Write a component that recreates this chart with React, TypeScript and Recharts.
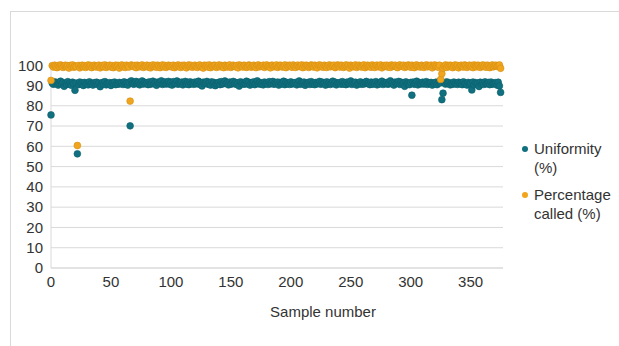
import { ScatterChart, Scatter, XAxis, YAxis, CartesianGrid } from "recharts"

// uniformity (%) per sample, in sample order starting at 0
const uniformity = [
  75.5, 91.2, 90.6, 91.8, 90.9, 91.5, 90.2, 91.0, 92.1, 90.8, 91.4, 89.6, 91.1, 90.5, 91.9, 90.7, 91.3, 90.1, 91.6, 90.9,
  87.6, 91.2, 56.3, 90.4, 91.7, 90.8, 91.3, 90.0, 91.5, 90.6, 91.1, 90.3, 91.8, 90.7, 91.0, 90.2, 91.4, 90.9, 91.6, 90.5,
  91.2, 89.4, 90.8, 91.5, 90.6, 91.9, 90.3, 91.1, 90.7, 91.4, 90.0, 91.3, 90.8, 91.7, 90.4, 91.0, 90.6, 91.5, 90.9, 91.2,
  90.5, 91.8, 90.7, 91.3, 90.2, 91.6, 70.1, 92.3, 91.0, 90.6, 91.4, 92.0, 90.8, 91.5, 90.3, 91.1, 92.2, 90.7, 91.6, 90.9,
  91.3, 90.4, 91.8, 90.6, 91.2, 92.1, 90.8, 91.5, 90.1, 91.7, 90.9, 91.4, 92.3, 90.5, 91.0, 91.8, 90.7, 91.3, 92.0, 90.6,
  91.5, 90.2, 91.9, 90.8, 91.1, 92.2, 90.6, 91.4, 90.9, 91.7, 90.3, 91.2, 92.0, 90.7, 91.5, 90.4, 91.8, 90.9, 91.3, 90.6,
  91.7, 90.8, 91.2, 92.1, 90.5, 91.4, 89.8, 91.6, 90.9, 91.1, 92.0, 90.6, 91.3, 90.2, 91.8, 90.7, 91.5, 89.9, 91.0, 90.8,
  91.6, 90.4, 91.9, 90.7, 91.2, 92.2, 90.9, 91.4, 90.3, 91.7, 90.6, 91.1, 92.0, 90.8, 91.5, 90.5, 91.3, 89.7, 91.8, 90.9,
  91.4, 90.6, 91.0, 92.1, 90.7, 91.6, 90.2, 91.3, 90.9, 91.8, 90.4, 91.2, 92.3, 90.8, 91.5, 90.6, 91.1, 90.3, 91.7, 90.9,
  91.3, 90.5, 91.9, 90.8, 91.0, 92.0, 90.6, 91.4, 90.9, 91.7, 90.2, 91.5, 90.7, 91.2, 92.1, 90.4, 91.6, 90.8, 91.1, 90.5,
  91.8, 90.7, 91.3, 90.9, 91.5, 90.3, 91.0, 92.2, 90.6, 91.4, 90.8, 91.7, 90.1, 91.2, 90.9, 91.6, 90.5, 91.9, 90.7, 91.3,
  90.4, 91.5, 90.8, 91.1, 92.0, 90.6, 91.7, 90.9, 91.3, 90.2, 91.8, 90.7, 91.4, 90.5, 91.0, 92.1, 90.8, 91.6, 90.3, 91.2,
  90.9, 91.5, 90.6, 91.9, 90.7, 91.3, 90.4, 91.7, 90.8, 91.1, 92.2, 90.5, 91.4, 90.9, 91.6, 90.2, 91.0, 90.8, 91.8, 90.6,
  91.3, 90.7, 91.5, 92.0, 90.9, 91.2, 90.4, 91.7, 90.6, 91.4, 90.8, 91.9, 90.3, 91.1, 90.7, 91.6, 92.1, 90.5, 91.3, 90.9,
  91.5, 90.6, 91.0, 92.3, 90.8, 91.4, 90.2, 91.7, 90.9, 91.2, 92.0, 90.5, 91.6, 90.7, 91.3, 89.6, 91.8, 90.8, 91.1, 90.4,
  91.5, 85.2, 91.7, 90.6, 91.2, 92.1, 90.3, 91.4, 90.8, 90.8, 91.6, 90.7, 91.0, 91.9, 90.5, 91.3, 90.9, 91.5, 90.2, 91.1,
  90.8, 91.6, 90.4, 91.2, 92.0, 91.3, 83.0, 86.2, 91.3, 90.7, 91.8, 90.9, 91.4, 90.3, 91.1, 90.6, 91.7, 90.8, 91.2, 90.5,
  91.6, 90.9, 91.3, 90.4, 91.8, 90.7, 91.0, 90.2, 91.5, 90.6, 91.2, 87.8, 91.7, 90.3, 91.4, 90.9, 91.1, 89.5, 91.6, 90.7,
  91.3, 90.5, 91.8, 90.8, 91.0, 91.5, 90.4, 91.7, 90.6, 91.2, 90.9, 91.4, 90.2, 91.6, 89.8, 86.6,
]

// percentage called (%) per sample
const percentageCalled = [
  92.5, 99.8, 99.1, 100.0, 99.5, 98.8, 99.9, 99.3, 100.1, 99.6, 98.9, 99.7, 100.0, 99.2, 99.8, 98.6, 99.9, 99.4, 100.1, 99.0,
  99.7, 99.3, 60.4, 99.9, 98.7, 99.6, 100.0, 99.2, 99.8, 98.9, 99.5, 100.1, 99.3, 99.9, 98.8, 99.7, 100.0, 99.4, 99.1, 99.8,
  100.0, 98.7, 99.6, 99.9, 99.2, 100.1, 98.9, 99.7, 99.4, 100.0, 99.1, 99.8, 98.8, 99.6, 100.0, 99.3, 99.9, 98.6, 99.7, 100.1,
  99.2, 99.8, 98.9, 100.0, 99.5, 99.1, 82.3, 100.1, 99.7, 99.3, 99.9, 98.8, 100.0, 99.6, 99.2, 99.8, 100.1, 98.9, 99.7, 99.4,
  100.0, 99.1, 99.8, 98.7, 99.6, 100.1, 99.3, 99.9, 99.0, 100.0, 99.5, 98.8, 99.7, 100.1, 99.2, 99.9, 98.9, 99.6, 100.0, 99.4,
  99.8, 99.1, 100.0, 98.8, 99.7, 99.3, 100.1, 99.5, 98.9, 99.9, 99.2, 100.0, 99.6, 98.7, 99.8, 100.1, 99.3, 99.9, 99.0, 99.7,
  100.0, 99.4, 98.9, 99.8, 100.1, 99.2, 99.6, 98.6, 100.0, 99.5, 99.9, 99.1, 100.1, 98.8, 99.7, 99.3, 100.0, 99.8, 98.9, 99.6,
  100.1, 99.2, 99.9, 99.5, 98.8, 100.0, 99.7, 99.1, 99.8, 100.1, 98.9, 99.4, 100.0, 99.6, 99.2, 99.9, 98.7, 100.1, 99.5, 99.8,
  99.1, 100.0, 99.7, 98.9, 99.3, 100.1, 99.8, 99.0, 99.6, 100.0, 99.4, 98.8, 99.9, 100.1, 99.2, 99.7, 99.5, 100.0, 98.9, 99.8,
  100.1, 99.3, 99.6, 98.7, 100.0, 99.9, 99.2, 99.7, 100.1, 98.9, 99.5, 100.0, 99.8, 99.1, 99.6, 100.1, 98.8, 99.9, 99.4, 100.0,
  99.7, 99.0, 100.1, 99.5, 98.9, 99.8, 100.0, 99.3, 99.6, 100.1, 98.8, 99.9, 99.2, 100.0, 99.7, 98.9, 99.4, 100.1, 99.8, 99.1,
  100.0, 99.6, 98.7, 99.9, 100.1, 99.3, 99.8, 99.0, 100.0, 99.5, 98.9, 99.7, 100.1, 99.2, 99.9, 99.6, 100.0, 98.8, 99.4, 100.1,
  99.8, 99.1, 100.0, 99.7, 98.9, 99.5, 100.1, 99.3, 99.9, 98.6, 100.0, 99.6, 99.2, 99.8, 100.1, 98.9, 99.7, 100.0, 99.4, 99.1,
  99.9, 100.1, 98.8, 99.6, 100.0, 99.3, 99.8, 99.0, 100.1, 99.5, 98.9, 99.9, 100.0, 99.2, 99.7, 100.1, 98.7, 99.6, 99.9, 99.4,
  100.0, 99.1, 99.8, 98.9, 100.1, 99.5, 99.7, 100.0, 99.2, 98.8, 99.9, 100.1, 99.4, 99.6, 100.0, 98.9, 99.8, 99.3, 100.1, 99.7,
  99.0, 100.0, 99.5, 98.8, 99.9, 100.1, 99.3, 99.7, 99.1, 100.0, 99.6, 98.9, 99.8, 100.1, 99.2, 99.9, 99.5, 100.0, 98.7, 99.7,
  100.1, 99.4, 99.8, 99.0, 100.0, 93.0, 95.8, 98.5, 99.6, 100.1, 98.9, 99.9, 99.3, 100.0, 99.7, 98.8, 99.5, 100.1, 99.2, 99.9,
  98.7, 99.6, 100.0, 99.4, 99.1, 100.1, 99.8, 98.9, 99.7, 100.0, 99.3, 99.9, 98.8, 100.1, 99.5, 99.2, 100.0, 99.8, 98.9, 99.6,
  100.1, 99.3, 99.9, 99.0, 100.0, 99.7, 98.8, 99.5, 100.1, 99.2, 99.8, 100.0, 99.4, 99.6, 100.1, 98.5,
]

const xTicks = [0, 50, 100, 150, 200, 250, 300, 350]
const yTicks = [0, 10, 20, 30, 40, 50, 60, 70, 80, 90, 100]

const TEAL = "#11707f"
const ORANGE = "#f1a51c"
const FONT = "'Liberation Sans', Arial, sans-serif"

const uniformityData = uniformity.map((v, i) => ({ x: i, y: v }))
const calledData = percentageCalled.map((v, i) => ({ x: i, y: v }))

const dot = (fill: string, stroke: string) => (props: any) =>
  <circle cx={props.cx} cy={props.cy} r={3.4} fill={fill} stroke={stroke} strokeWidth={0.6} />

const legendItems = [
  { label: "Uniformity (%)", color: TEAL },
  { label: "Percentage called (%)", color: ORANGE },
]

export default function App() {
  return (
    <div style={{ position: "fixed", left: 0, top: 0, width: 619, height: 346, background: "#fff", fontFamily: FONT }}>
      <div
        style={{
          position: "absolute",
          left: 10,
          top: 11,
          width: 608,
          height: 334,
          borderLeft: "1px solid #d9d9d9",
          borderTop: "1px solid #d9d9d9",
        }}
      />
      <ScatterChart
        width={619}
        height={346}
        margin={{ top: 65, right: 116, left: 11, bottom: 26 }}
        style={{ position: "absolute", left: 0, top: 0 }}
      >
        <CartesianGrid vertical={false} stroke="#d9d9d9" />
        <XAxis
          type="number"
          dataKey="x"
          domain={[0, 377]}
          ticks={xTicks}
          interval={0}
          height={52}
          tickLine={false}
          axisLine={{ stroke: "#d9d9d9" }}
          tick={{ fill: "#333", fontSize: 15, fontFamily: FONT }}
          label={{
            value: "Sample number",
            position: "insideBottom",
            offset: 3,
            dx: 46,
            style: { fill: "#333", fontSize: 15, fontFamily: FONT },
          }}
        />
        <YAxis
          type="number"
          dataKey="y"
          domain={[0, 100]}
          ticks={yTicks}
          interval={0}
          width={40}
          tickLine={false}
          axisLine={{ stroke: "#d9d9d9" }}
          tick={{ fill: "#333", fontSize: 15, fontFamily: FONT }}
        />
        <Scatter data={uniformityData} shape={dot(TEAL, "#0c5f6c")} isAnimationActive={false} />
        <Scatter data={calledData} shape={dot(ORANGE, "#d48f14")} isAnimationActive={false} />
      </ScatterChart>
      <div style={{ position: "absolute", left: 522, top: 139, width: 86 }}>
        {legendItems.map((it) => (
          <div key={it.label} style={{ position: "relative", paddingLeft: 12, marginBottom: 8, fontSize: 15, lineHeight: "19px", color: "#333" }}>
            <span
              style={{
                position: "absolute",
                left: 0,
                top: 7,
                width: 6,
                height: 6,
                borderRadius: 3,
                background: it.color,
              }}
            />
            {it.label}
          </div>
        ))}
      </div>
    </div>
  )
}
